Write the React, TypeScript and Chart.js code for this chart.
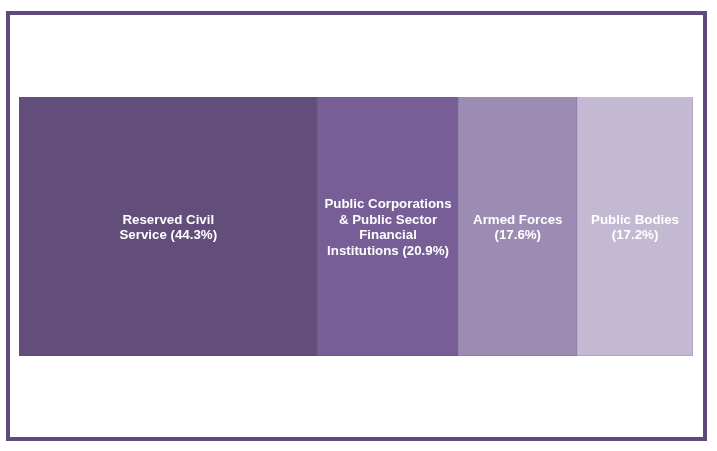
import React, { useEffect, useRef } from "react";
import { Chart, registerables } from "chart.js";

Chart.register(...registerables);

const categories = ["Share"];
const seriesNames = [
  "Reserved Civil Service",
  "Public Corporations & Public Sector Financial Institutions",
  "Armed Forces",
  "Public Bodies",
];
const seriesValues = [44.3, 20.9, 17.6, 17.2];
const labelLines = [
  ["Reserved Civil", "Service (44.3%)"],
  ["Public Corporations", "& Public Sector", "Financial", "Institutions (20.9%)"],
  ["Armed Forces", "(17.6%)"],
  ["Public Bodies", "(17.2%)"],
];
const colors = ["#634d7b", "#785e96", "#9c8cb3", "#c3b9d3"];
const borderColors = ["#5a4671", "#6c5588", "#8a79a3", "#aa9fbd"];

const framePlugin = {
  id: "frame",
  beforeDraw(chart: any) {
    const ctx = chart.ctx;
    ctx.save();
    ctx.fillStyle = "#ffffff";
    ctx.fillRect(0, 0, chart.width, chart.height);
    ctx.strokeStyle = "#5f4b7b";
    ctx.lineWidth = 4;
    ctx.strokeRect(8, 13, 697, 426);
    ctx.restore();
  },
};

const labelPlugin = {
  id: "segLabels",
  afterDatasetsDraw(chart: any) {
    const ctx = chart.ctx;
    ctx.save();
    ctx.fillStyle = "#ffffff";
    ctx.font = "bold 13.3px 'Liberation Sans', Arial, sans-serif";
    ctx.textAlign = "center";
    ctx.textBaseline = "middle";
    const lh = 15.6;
    chart.data.datasets.forEach((ds: any, i: number) => {
      const meta = chart.getDatasetMeta(i);
      const el = meta.data[0];
      if (!el) return;
      const cx = (el.x + el.base) / 2;
      const cy = el.y + 1.5;
      const lines = labelLines[i];
      const start = cy - ((lines.length - 1) * lh) / 2;
      lines.forEach((t, j) => ctx.fillText(t, cx, start + j * lh));
    });
    ctx.restore();
  },
};

export default function App() {
  const ref = useRef<HTMLCanvasElement>(null);
  useEffect(() => {
    if (!ref.current) return;
    const chart = new Chart(ref.current, {
      type: "bar",
      data: {
        labels: categories,
        datasets: seriesNames.map((name, i) => ({
          label: name,
          data: [seriesValues[i]],
          backgroundColor: colors[i],
          borderColor: borderColors[i],
          borderWidth: { right: 1, bottom: 1, top: 0, left: 0 },
          borderSkipped: false,
          categoryPercentage: 1,
          barPercentage: 1,
        })),
      },
      options: {
        indexAxis: "y",
        animation: false,
        responsive: false,
        devicePixelRatio: 1,
        layout: { padding: { left: 19, right: 24, top: 97, bottom: 95 } },
        plugins: { legend: { display: false }, tooltip: { enabled: false } },
        scales: {
          x: { stacked: true, min: 0, max: 100, display: false },
          y: { stacked: true, display: false },
        },
      },
      plugins: [framePlugin, labelPlugin],
    });
    return () => chart.destroy();
  }, []);
  return (
    <div style={{ position: "absolute", left: 0, top: 0, width: 717, height: 451 }}>
      <canvas ref={ref} width={717} height={451} style={{ display: "block" }} />
    </div>
  );
}
